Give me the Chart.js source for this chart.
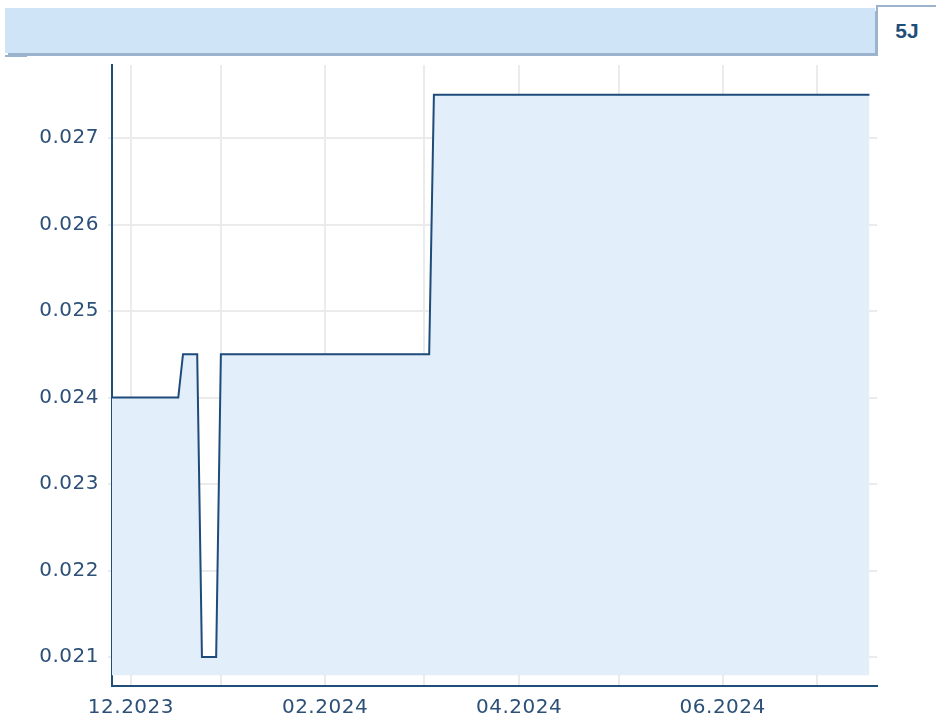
<!DOCTYPE html>
<html><head><meta charset="utf-8">
<script src="https://cdn.jsdelivr.net/npm/chart.js@4.4.1/dist/chart.umd.min.js"></script>
<style>
html,body{margin:0;padding:0;background:#fff;width:936px;height:720px;overflow:hidden;}
#bar{position:absolute;left:5px;top:8px;width:870px;height:45px;background:#cfe4f7;box-shadow:3px 3px 0 #9bb3cc;}
#bar2{position:absolute;left:5px;top:55px;width:22px;height:2px;background:#9bb3cc;}
#tab{position:absolute;left:876px;top:5px;width:60px;height:50px;border-top:2px solid #9bb3cc;border-left:2px solid #9bb3cc;box-sizing:border-box;
 font:bold 21px "Liberation Sans",Arial,sans-serif;color:#1f4e79;text-align:center;line-height:48px;}
#c{position:absolute;left:0;top:0;}
</style></head>
<body>
<div id="bar"></div><div id="bar2"></div>
<div id="tab">5J</div>
<canvas id="c" width="936" height="720"></canvas>
<script>
// x = trading-day offset from 01.12.2023
const pointIndex = [-4, 10, 11, 14, 15, 18, 19, 63, 64, 156];
const pointValue = [0.024, 0.024, 0.0245, 0.0245, 0.021, 0.021, 0.0245, 0.0245, 0.0275, 0.0275];
const monthIndex = [0, 19, 41, 62, 82, 103, 125, 145];
const monthLabels = ['12.2023', '', '02.2024', '', '04.2024', '', '06.2024', ''];
const yTicks = [0.021, 0.022, 0.023, 0.024, 0.025, 0.026, 0.027];

const data = pointIndex.map((x, i) => ({x: x, y: pointValue[i]}));
const labelColor = '#2c5078';
const axisColor = '#1f4e79';
const gridColor = '#ebebeb';

const spacing = {
  id: 'spacing',
  beforeLayout(chart) { chart.ctx.letterSpacing = '0.5px'; },
  beforeDraw(chart) { chart.ctx.letterSpacing = '0.5px'; }
};

new Chart(document.getElementById('c'), {
  type: 'line',
  data: {datasets: [{
    data: data,
    borderColor: '#1e4b7a',
    borderWidth: 2,
    backgroundColor: '#e2eef9',
    fill: {value: 0.02079},
    pointRadius: 0,
    tension: 0
  }]},
  plugins: [spacing],
  options: {
    responsive: false,
    animation: false,
    devicePixelRatio: 1,
    layout: {padding: {left: 0, top: 65, right: 59, bottom: 0}},
    plugins: {legend: {display: false}, tooltip: {enabled: false}},
    scales: {
      x: {
        type: 'linear',
        min: -4, max: 157.6,
        afterBuildTicks: s => { s.ticks = monthIndex.map(v => ({value: v})); },
        afterFit: s => { s.height = 34; },
        grid: {color: gridColor, lineWidth: 2, drawTicks: false},
        border: {color: axisColor, width: 2},
        ticks: {
          autoSkip: false, maxRotation: 0, padding: 10,
          color: labelColor, font: {family: 'DejaVu Sans', size: 20},
          callback: (v, i) => monthLabels[i]
        }
      },
      y: {
        min: 0.020665, max: 0.027844,
        afterBuildTicks: s => { s.ticks = yTicks.map(v => ({value: v})); },
        afterFit: s => { s.width = 112; },
        grid: {color: gridColor, lineWidth: 2, drawTicks: true, tickLength: 4},
        border: {color: axisColor, width: 2},
        ticks: {
          padding: 9,
          color: labelColor, font: {family: 'DejaVu Sans', size: 20},
          callback: v => v.toFixed(3)
        }
      }
    }
  }
});
</script>
</body></html>
